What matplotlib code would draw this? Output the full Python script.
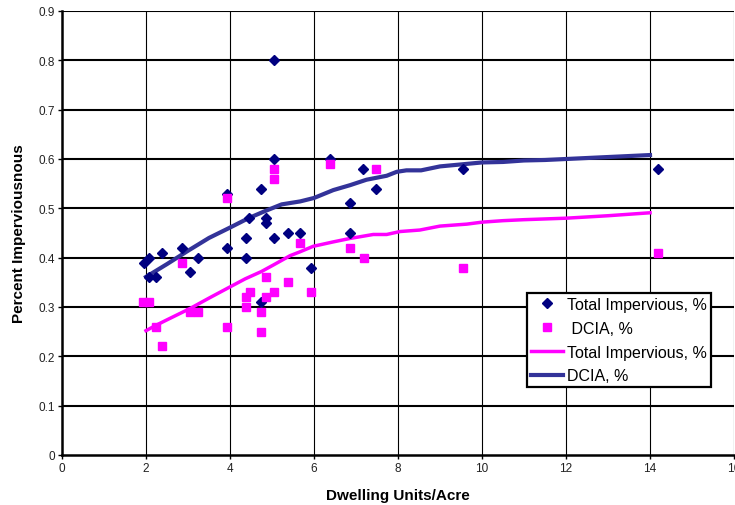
import matplotlib
matplotlib.use("Agg")
import matplotlib.pyplot as plt

plt.rcParams['font.family'] = ['Liberation Sans', 'DejaVu Sans']

# Observed points: total impervious fraction vs dwelling density
ti_x = [1.95, 2.06, 2.06, 2.24, 2.37, 2.85, 3.05, 3.25, 3.94, 3.94,
        4.37, 4.37, 4.45, 4.75, 4.75, 4.85, 4.85, 5.05, 5.05, 5.05,
        5.37, 5.67, 5.94, 6.37, 6.86, 6.86, 7.17, 7.47, 9.55, 14.18]
ti_y = [0.39, 0.40, 0.36, 0.36, 0.41, 0.42, 0.37, 0.40, 0.53, 0.42,
        0.44, 0.40, 0.48, 0.54, 0.31, 0.48, 0.47, 0.80, 0.60, 0.44,
        0.45, 0.45, 0.38, 0.60, 0.51, 0.45, 0.58, 0.54, 0.58, 0.58]

# Observed points: directly connected impervious area
dc_x = [1.94, 2.06, 2.24, 2.37, 2.85, 3.05, 3.25, 3.94, 3.94, 4.37,
        4.37, 4.48, 4.75, 4.75, 4.85, 4.85, 5.05, 5.05, 5.05, 5.37,
        5.67, 5.94, 6.37, 6.86, 7.19, 7.47, 9.55, 14.18]
dc_y = [0.31, 0.31, 0.26, 0.22, 0.39, 0.29, 0.29, 0.52, 0.26, 0.32,
        0.30, 0.33, 0.29, 0.25, 0.36, 0.32, 0.58, 0.56, 0.33, 0.35,
        0.43, 0.33, 0.59, 0.42, 0.40, 0.58, 0.38, 0.41]

# Smoothed trend curves
navy_x = [2.0, 2.5, 3.0, 3.5, 4.0, 4.44, 4.85, 5.23, 5.67, 6.0, 6.46, 6.86,
          7.25, 7.73, 7.97, 8.2, 8.55, 9.0, 9.5, 10.0, 10.5, 11.0, 11.5,
          12.0, 13.0, 14.0]
navy_y = [0.361, 0.387, 0.414, 0.440, 0.461, 0.480, 0.495, 0.508, 0.514,
          0.521, 0.537, 0.547, 0.558, 0.566, 0.574, 0.577, 0.577, 0.585,
          0.589, 0.593, 0.594, 0.597, 0.598, 0.600, 0.604, 0.608]

pink_x = [2.0, 2.24, 2.5, 3.05, 3.5, 3.94, 4.36, 4.75, 5.03, 5.43, 5.67,
          5.98, 6.46, 6.86, 7.41, 7.73, 8.05, 8.52, 9.0, 9.64, 10.0, 10.5,
          11.0, 12.0, 13.0, 14.0]
pink_y = [0.252, 0.263, 0.274, 0.297, 0.318, 0.338, 0.357, 0.372, 0.385,
          0.404, 0.412, 0.423, 0.432, 0.439, 0.447, 0.447, 0.453, 0.456,
          0.464, 0.468, 0.472, 0.475, 0.477, 0.480, 0.485, 0.491]

x_ticks = [0, 2, 4, 6, 8, 10, 12, 14, 16]
y_ticks = [0, 0.1, 0.2, 0.3, 0.4, 0.5, 0.6, 0.7, 0.8, 0.9]
y_tick_labels = ['0', '0.1', '0.2', '0.3', '0.4', '0.5', '0.6', '0.7', '0.8', '0.9']

fig = plt.figure(figsize=(7.35, 5.06), dpi=100)
ax = fig.add_axes([62/735, 50/506, 672/735, 444/506])

ax.set_xlim(0, 16)
ax.set_ylim(0, 0.9)
ax.set_xticks(x_ticks)
ax.set_xticklabels([str(t) for t in x_ticks])
ax.set_yticks(y_ticks)
ax.set_yticklabels(y_tick_labels)

# grid: heavy horizontal rules, thin vertical rules
for v in y_ticks[1:]:
    ax.axhline(v, color='black', lw=1.5, zorder=1)
for v in x_ticks[1:]:
    ax.axvline(v, color='black', lw=0.8, zorder=1)

for side in ('top', 'right'):
    ax.spines[side].set_visible(False)
for side in ('left', 'bottom'):
    ax.spines[side].set_linewidth(1.8)
ax.tick_params(axis='both', direction='out', length=3, width=1,
               labelsize=8.5, labelcolor='#222222', pad=2)

h1, = ax.plot(ti_x, ti_y, linestyle='none', marker='D', markersize=4.8,
              color='#000080', zorder=4, label='Total Impervious, %')
h2, = ax.plot(dc_x, dc_y, linestyle='none', marker='s', markersize=5.5,
              color='#FF00FF', zorder=4, label=' DCIA, %')
h3, = ax.plot(pink_x, pink_y, color='#FF00FF', lw=2.5, zorder=3,
              label='Total Impervious, %')
h4, = ax.plot(navy_x, navy_y, color='#333399', lw=3, zorder=3,
              label='DCIA, %')

ax.set_xlabel('Dwelling Units/Acre', fontsize=11, fontweight='bold', labelpad=10)
ax.set_ylabel('Percent Imperviousnous', fontsize=11, fontweight='bold', labelpad=9)

leg = ax.legend(handles=[h1, h2, h3, h4], loc='upper left',
                bbox_to_anchor=(527/735, 1 - 294/506), bbox_transform=fig.transFigure,
                fontsize=11.5, frameon=True, fancybox=False, shadow=False,
                handlelength=2.0, handletextpad=0.25, borderpad=0.25,
                labelspacing=0.55, borderaxespad=0, framealpha=1)
leg.get_frame().set_edgecolor('black')
leg.get_frame().set_linewidth(1.6)
leg.set_zorder(5)

fig.savefig('out.png', dpi=100)
